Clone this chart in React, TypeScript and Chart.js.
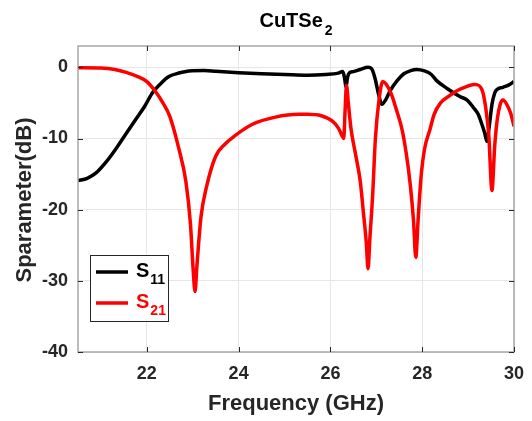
import React, { useEffect, useRef } from "react";
import { Chart, registerables } from "chart.js";

Chart.register(...registerables);

const FONT = '"Liberation Sans", Arial, Helvetica, sans-serif';

const xTicks = [22, 24, 26, 28, 30];
const yTicks = [-40, -30, -20, -10, 0];

const freqS11 = [
  20.5, 20.7, 20.9, 21.1, 21.32, 21.55, 21.76, 21.95, 22.13, 22.3, 22.48, 22.7, 22.92, 23.25, 23.5,
  24.0, 24.5, 25.0, 25.5, 25.9, 26.15, 26.27, 26.31, 26.34, 26.37, 26.41, 26.5, 26.65, 26.82, 26.9,
  26.97, 27.05, 27.12, 27.2, 27.3, 27.45, 27.6, 27.75, 27.88, 28.05, 28.2, 28.32, 28.55, 28.82, 28.98,
  29.11, 29.22, 29.3, 29.36, 29.41, 29.46, 29.52, 29.58, 29.63, 29.76, 29.88, 30.0,
];
const s11 = [
  -15.9, -15.6, -14.8, -13.4, -11.5, -9.3, -7.3, -5.5, -3.5, -2.3, -1.3, -0.8, -0.5, -0.45, -0.55,
  -0.75, -0.9, -1.0, -1.1, -1.0, -0.85, -0.6, -1.6, -2.8, -1.5, -0.8, -0.6, -0.3, 0.0, -0.2,
  -1.5, -3.8, -5.2, -4.6, -3.3, -1.9, -0.9, -0.45, -0.3, -0.5, -1.0, -1.9, -3.0, -4.1, -4.6,
  -5.6, -6.6, -8.0, -9.2, -10.4, -8.3, -5.2, -3.6, -3.1, -2.8, -2.5, -2.0,
];

const freqS21 = [
  20.5, 21.0, 21.3, 21.55, 21.8, 22.0, 22.2, 22.35, 22.5, 22.7, 22.85, 22.95, 23.01, 23.05, 23.09,
  23.18, 23.3, 23.5, 23.7, 23.9, 24.3, 24.8, 25.3, 25.5, 25.8, 26.05, 26.18, 26.26, 26.29, 26.32, 26.35,
  26.39, 26.45, 26.55, 26.65, 26.72, 26.78, 26.82, 26.86, 26.92, 26.98, 27.06, 27.14, 27.22, 27.33,
  27.43, 27.56, 27.65, 27.74, 27.81, 27.86, 27.91, 27.98, 28.05, 28.17, 28.26, 28.4, 28.57, 28.85,
  29.15, 29.3, 29.38, 29.45, 29.52, 29.58, 29.63, 29.7, 29.76, 29.85, 29.93, 30.0,
];
const s21 = [
  -0.05, -0.1, -0.3, -0.7, -1.3, -2.0, -3.5, -5.0, -6.9, -11.5, -16.0, -22.0, -28.5, -31.5, -28.0,
  -21.0, -16.8, -12.5, -10.8, -9.7, -8.0, -7.0, -6.6, -6.6, -6.8, -7.6, -8.6, -9.7, -10.0, -6.0, -2.5,
  -5.0, -8.7, -12.3, -16.0, -20.5, -24.5, -28.3, -24.0, -18.0, -10.0, -4.5, -2.0, -2.4, -3.8,
  -5.8, -8.7, -12.0, -16.5, -21.5, -26.7, -21.5, -15.0, -11.5, -8.7, -6.6, -5.0, -4.1, -3.0,
  -2.4, -3.1, -5.5, -9.5, -17.3, -11.0, -7.6, -5.2, -4.6, -5.3, -6.5, -8.3,
];

const axisBoxPlugin = {
  id: "axisBox",
  afterDraw(chart: any) {
    const ctx = chart.ctx;
    const { left, right, top, bottom } = chart.chartArea;
    const xs = chart.scales.x;
    const ys = chart.scales.y;
    ctx.save();
    // box
    ctx.strokeStyle = "#a6a6a6";
    ctx.lineWidth = 1.5;
    ctx.strokeRect(left, top, right - left, bottom - top);
    // inward ticks
    ctx.strokeStyle = "#262626";
    ctx.lineWidth = 1;
    ctx.beginPath();
    for (const v of xTicks) {
      const px = Math.round(xs.getPixelForValue(v)) + 0.5;
      ctx.moveTo(px, bottom);
      ctx.lineTo(px, bottom - 5);
      ctx.moveTo(px, top);
      ctx.lineTo(px, top + 5);
    }
    for (const v of yTicks) {
      const py = Math.round(ys.getPixelForValue(v)) + 0.5;
      ctx.moveTo(left, py);
      ctx.lineTo(left + 5, py);
      ctx.moveTo(right, py);
      ctx.lineTo(right - 5, py);
    }
    ctx.stroke();

    // x tick labels
    ctx.fillStyle = "#262626";
    ctx.font = `bold 18px ${FONT}`;
    ctx.textAlign = "center";
    ctx.textBaseline = "middle";
    for (const v of xTicks) {
      ctx.fillText(String(v), xs.getPixelForValue(v), bottom + 22);
    }

    // title with subscript
    ctx.fillStyle = "#000";
    ctx.textBaseline = "alphabetic";
    ctx.textAlign = "left";
    ctx.font = `bold 20px ${FONT}`;
    const main = "CuTSe";
    const wMain = ctx.measureText(main).width;
    ctx.font = `bold 14px ${FONT}`;
    const wSub = ctx.measureText("2").width;
    const tx = 296 - (wMain + wSub + 2) / 2;
    ctx.font = `bold 20px ${FONT}`;
    ctx.fillText(main, tx, 27);
    ctx.font = `bold 14px ${FONT}`;
    ctx.fillText("2", tx + wMain + 2, 35);

    // axis titles
    ctx.fillStyle = "#262626";
    ctx.font = `bold 22px ${FONT}`;
    ctx.textAlign = "center";
    ctx.fillText("Frequency (GHz)", 296, 410);
    ctx.save();
    ctx.translate(31, 200);
    ctx.rotate(-Math.PI / 2);
    ctx.fillText("Sparameter(dB)", 0, 0);
    ctx.restore();

    // legend
    ctx.fillStyle = "#ffffff";
    ctx.fillRect(90.5, 255.5, 78, 66);
    ctx.strokeStyle = "#262626";
    ctx.lineWidth = 1;
    ctx.strokeRect(90.5, 255.5, 78, 66);
    const items = [
      { color: "#000000", sub: "11", y: 272 },
      { color: "#ff0000", sub: "21", y: 303 },
    ];
    ctx.textAlign = "left";
    for (const it of items) {
      ctx.strokeStyle = it.color;
      ctx.lineWidth = 3.5;
      ctx.beginPath();
      ctx.moveTo(96, it.y);
      ctx.lineTo(128, it.y);
      ctx.stroke();
      ctx.fillStyle = it.color;
      ctx.font = `bold 20px ${FONT}`;
      ctx.fillText("S", 136, it.y + 5);
      const ws = ctx.measureText("S").width;
      ctx.font = `bold 14px ${FONT}`;
      ctx.fillText(it.sub, 136 + ws + 1, it.y + 12);
    }
    ctx.restore();
  },
};

export default function App() {
  const ref = useRef<HTMLCanvasElement>(null);
  useEffect(() => {
    if (!ref.current) return;
    const chart = new Chart(ref.current, {
      type: "line",
      data: {
        datasets: [
          {
            label: "S11",
            data: freqS11.map((x, i) => ({ x, y: s11[i] })),
            borderColor: "#000000",
            borderWidth: 3.5,
            pointRadius: 0,
            cubicInterpolationMode: "monotone",
            order: 1,
            fill: false,
          },
          {
            label: "S21",
            data: freqS21.map((x, i) => ({ x, y: s21[i] })),
            borderColor: "#ff0000",
            borderWidth: 3.5,
            pointRadius: 0,
            cubicInterpolationMode: "monotone",
            order: 0,
            fill: false,
          },
        ],
      },
      options: {
        animation: false,
        responsive: false,
        devicePixelRatio: 1,
        layout: { padding: { top: 46, right: 18, bottom: 0, left: 0 } },
        plugins: { legend: { display: false }, tooltip: { enabled: false }, title: { display: false } },
        scales: {
          x: {
            type: "linear",
            min: 20.5,
            max: 30,
            afterBuildTicks: (s: any) => {
              s.ticks = xTicks.map((v) => ({ value: v }));
            },
            afterFit: (s: any) => {
              s.height = 69;
            },
            ticks: { display: false },
            grid: { color: "#e6e6e6", drawTicks: false, lineWidth: 1 },
            border: { display: false },
          },
          y: {
            type: "linear",
            min: -40,
            max: 3,
            afterBuildTicks: (s: any) => {
              s.ticks = yTicks.map((v) => ({ value: v }));
            },
            afterFit: (s: any) => {
              s.width = 78;
            },
            ticks: {
              font: { size: 18, weight: "bold", family: FONT },
              color: "#262626",
              padding: 10,
              autoSkip: false,
              callback: (v: any) => String(v),
            },
            grid: { color: "#e6e6e6", drawTicks: false, lineWidth: 1 },
            border: { display: false },
          },
        },
      },
      plugins: [axisBoxPlugin],
    });
    return () => chart.destroy();
  }, []);
  return (
    <div style={{ position: "fixed", left: 0, top: 0, width: 532, height: 421, background: "#fff" }}>
      <canvas ref={ref} width={532} height={421} style={{ display: "block" }} />
    </div>
  );
}
